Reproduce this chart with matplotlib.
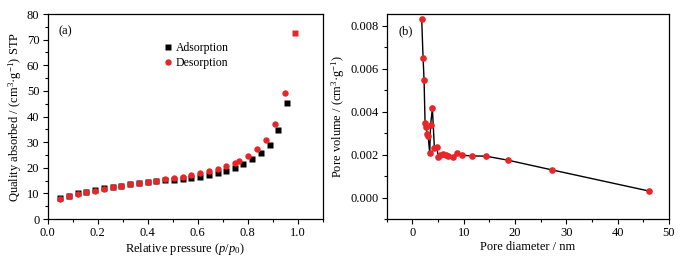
import matplotlib
matplotlib.use("Agg")
import matplotlib.pyplot as plt
from matplotlib.ticker import MultipleLocator

plt.rcParams['font.family'] = ['Liberation Serif', 'DejaVu Serif']
plt.rcParams['mathtext.fontset'] = 'custom'
plt.rcParams['mathtext.rm'] = 'Liberation Serif'
plt.rcParams['mathtext.it'] = 'Liberation Serif:italic'

RED = '#e8262a'

# Panel (a): N2 adsorption-desorption isotherm
ads_p = [0.05, 0.085, 0.12, 0.155, 0.19, 0.225, 0.26, 0.295, 0.33, 0.365, 0.40,
         0.435, 0.47, 0.505, 0.54, 0.575, 0.61, 0.645, 0.68, 0.715, 0.75, 0.783,
         0.819, 0.853, 0.888, 0.923, 0.957]
ads_q = [8.3, 9.0, 10.0, 10.7, 11.4, 12.0, 12.5, 13.0, 13.5, 13.9, 14.3,
         14.7, 15.1, 15.4, 15.7, 16.1, 16.5, 17.2, 18.0, 18.9, 20.0, 21.4,
         23.3, 25.7, 29.0, 34.6, 45.2]
des_p = [0.05, 0.085, 0.12, 0.155, 0.19, 0.225, 0.26, 0.295, 0.33, 0.365, 0.40,
         0.435, 0.47, 0.505, 0.54, 0.575, 0.61, 0.645, 0.68, 0.715, 0.75, 0.764,
         0.80, 0.836, 0.872, 0.908, 0.948]
des_q = [7.8, 8.9, 9.6, 10.4, 11.1, 11.8, 12.4, 13.0, 13.5, 13.9, 14.5,
         15.0, 15.5, 16.0, 16.6, 17.3, 17.9, 18.7, 19.6, 20.6, 22.0, 22.7,
         24.7, 27.2, 31.0, 37.1, 49.1]
top_p = [0.988]
top_q = [72.5]

# Panel (b): pore size distribution
pore_d = [1.82, 2.08, 2.28, 2.47, 2.67, 2.86, 3.06, 3.38, 3.55, 3.9, 4.29, 4.75,
          5.07, 5.46, 6.05, 6.57, 7.02, 7.87, 8.71, 9.75, 11.64, 14.3, 18.66,
          27.18, 46.2]
pore_v = [0.0083, 0.00651, 0.00547, 0.00348, 0.0033, 0.00298, 0.00287, 0.00208,
          0.0034, 0.00415, 0.00231, 0.00235, 0.00188, 0.0020, 0.00202, 0.0020,
          0.00196, 0.00188, 0.00208, 0.00197, 0.00194, 0.00193, 0.00174,
          0.00129, 0.0003]

fig = plt.figure(figsize=(6.83, 2.58), dpi=100)
ax1 = fig.add_axes([0.0698, 0.151, 0.4027, 0.7946])
ax2 = fig.add_axes([0.5662, 0.151, 0.4133, 0.7946])

FS = 9
for ax in (ax1, ax2):
    ax.tick_params(which='both', direction='out', top=False, right=False,
                   labelsize=FS, width=0.8, pad=2.5)
    ax.tick_params(which='major', length=3.5)
    ax.tick_params(which='minor', length=2)
    for s in ax.spines.values():
        s.set_linewidth(0.9)

ax1.plot(ads_p, ads_q, 's', color='black', ms=3.8, mec='none', label='Adsorption')
ax1.plot(des_p, des_q, 'o', color=RED, ms=4.6, mec='none', label='Desorption')
ax1.plot(top_p, top_q, 's', color=RED, ms=4.0, mec='none')
ax1.set_xlim(0, 1.1)
ax1.set_ylim(0, 80)
ax1.xaxis.set_major_locator(MultipleLocator(0.2))
ax1.xaxis.set_minor_locator(MultipleLocator(0.1))
ax1.yaxis.set_major_locator(MultipleLocator(10))
ax1.yaxis.set_minor_locator(MultipleLocator(5))
ax1.xaxis.set_major_formatter(matplotlib.ticker.FormatStrFormatter('%.1f'))
ax1.set_xlabel('Relative pressure ($p$/$p_0$)', fontsize=FS, labelpad=1)
ax1.set_ylabel('Quality absorbed / (cm$^3$·g$^{-1}$) STP', fontsize=FS, labelpad=2)
ax1.text(0.04, 0.9, '(a)', transform=ax1.transAxes, fontsize=FS)
ax1.legend(loc='upper left', bbox_to_anchor=(0.40, 0.885), frameon=False,
           fontsize=8.5, handletextpad=0.15, handlelength=1.0, labelspacing=0.25,
           borderaxespad=0)

ax2.plot(pore_d, pore_v, '-', color='black', lw=1.0)
ax2.plot(pore_d, pore_v, 'o', color=RED, ms=4.8, mec='none')
ax2.set_xlim(-5, 50)
ax2.set_ylim(-0.001, 0.00855)
ax2.xaxis.set_major_locator(MultipleLocator(10))
ax2.xaxis.set_minor_locator(MultipleLocator(5))
ax2.yaxis.set_major_locator(MultipleLocator(0.002))
ax2.yaxis.set_minor_locator(MultipleLocator(0.001))
ax2.yaxis.set_major_formatter(matplotlib.ticker.FormatStrFormatter('%.3f'))
ax2.set_xlabel('Pore diameter / nm', fontsize=FS, labelpad=1)
ax2.set_ylabel('Pore volume / (cm$^3$·g$^{-1}$)', fontsize=FS, labelpad=2)
ax2.text(0.04, 0.9, '(b)', transform=ax2.transAxes, fontsize=FS)

fig.savefig('out.png', dpi=100)
